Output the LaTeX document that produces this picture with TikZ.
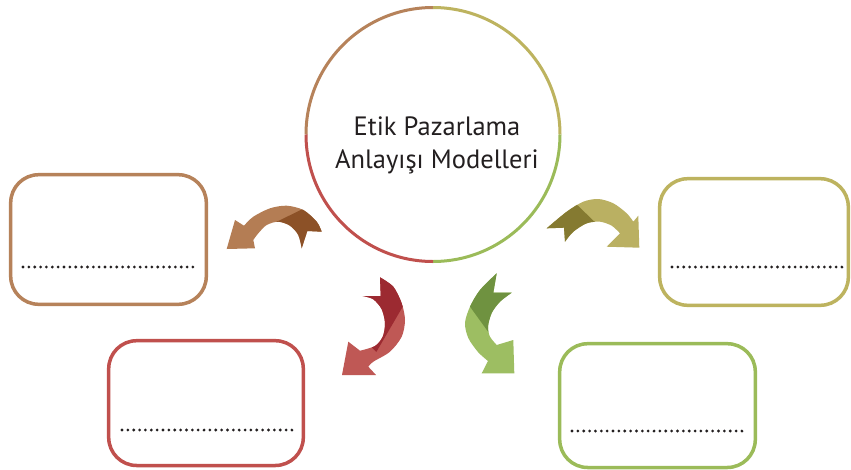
\documentclass[tikz,border=0pt]{standalone}
\usepackage{fontspec}
\setmainfont{PT Sans}
\usetikzlibrary{calc}
\definecolor{brBox}{HTML}{B6825A}
\definecolor{brLight}{HTML}{B47D54}
\definecolor{brDark}{HTML}{8C5127}
\definecolor{rdBox}{HTML}{C0504D}
\definecolor{rdLight}{HTML}{BF5855}
\definecolor{rdDark}{HTML}{9C2A31}
\definecolor{olBox}{HTML}{BDB35F}
\definecolor{olLight}{HTML}{BAB062}
\definecolor{olDark}{HTML}{857A31}
\definecolor{gnBox}{HTML}{9BBB59}
\definecolor{gnLight}{HTML}{9DBE62}
\definecolor{gnDark}{HTML}{6F9240}
\definecolor{txt}{HTML}{231F20}
\begin{document}
\begin{tikzpicture}[x=1pt,y=-1pt,
  box/.style={draw, line width=3.5pt, rounded corners=28pt, inner sep=0pt},
  dotline/.style={line width=3.1pt, line cap=round, dash pattern=on 0pt off 5.86pt, draw=txt},
  ring/.style={line width=3pt},
  title/.style={anchor=base, text=txt, font=\fontsize{26.5}{32}\selectfont, inner sep=0pt}]
\useasboundingbox[fill=white] (0,0) rectangle (851,469);

% hub circle
\node[circle, minimum size=254pt, inner sep=0pt] (hub) at (433,134.5) {};
\draw[ring, brBox] ($(hub.center)+(-127,0)$) arc[start angle=180, end angle=90, radius=127pt];
\draw[ring, olBox] ($(hub.center)+(0,-127)$) arc[start angle=90, end angle=0, radius=127pt];
\draw[ring, gnBox] ($(hub.center)+(127,0)$) arc[start angle=0, end angle=-90, radius=127pt];
\draw[ring, rdBox] ($(hub.center)+(0,127)$) arc[start angle=-90, end angle=-180, radius=127pt];
\node[title] (t1) at (437,135) {Etik Pazarlama};
\node[title] (t2) at (437,168) {Anlayışı Modelleri};

% boxes
\node[box, draw=brBox, minimum width=195.6pt, minimum height=129.6pt] (b1) at (108.5,239.5) {};
\node[box, draw=rdBox, minimum width=194.6pt, minimum height=124.8pt] (b2) at (206,403.1) {};
\node[box, draw=olBox, minimum width=188.6pt, minimum height=126.6pt] (b3) at (754,242) {};
\node[box, draw=gnBox, minimum width=195.6pt, minimum height=123.8pt] (b4) at (657.5,405.6) {};

\draw[dotline] ($(b1.center)+(-85.5,27.5)$) -- ($(b1.center)+(84.5,27.5)$);
\draw[dotline] ($(b2.center)+(-84,26.9)$) -- ($(b2.center)+(86,26.9)$);
\draw[dotline] ($(b3.center)+(-82,25)$) -- ($(b3.center)+(89,25)$);
\draw[dotline] ($(b4.center)+(-85.5,25.4)$) -- ($(b4.center)+(86.5,25.4)$);

% brown arrow
\begin{scope}
\clip (226.7,249) -- (235,220) -- (244,225.7)
  -- plot[smooth] coordinates {(244,225.7) (253.3,216.7) (270,208.3) (286.7,205.7) (303.3,210) (316.7,221.7) (321.7,231.7)}
  -- (307.3,231) -- (301.7,248.3)
  -- plot[smooth] coordinates {(301.7,248.3) (298.3,235) (290,225.7) (278.3,221.7) (266.7,225) (258.3,233.3) (253.3,240)}
  -- (255,248.3) -- cycle;
\fill[brLight] (220,195) rectangle (330,255);
\fill[brDark] (268,226) -- (312,204.5) -- (345,204.5) -- (345,265) -- (268,265) -- cycle;
\end{scope}

% olive arrow
\begin{scope}
\clip (639.3,247.7) -- (638.3,215.7) -- (633.3,221.7)
  -- plot[smooth] coordinates {(633.3,221.7) (626.7,213.3) (613.3,203.3) (598.3,199) (583.3,201.7) (566.7,211.7) (546.7,228.3)}
  -- (564,227.7) -- (565,241.7)
  -- plot[smooth] coordinates {(565,241.7) (573.3,231.7) (586.7,223.3) (600,221.7) (611.7,225.7) (620,233.3)}
  -- (606.7,246.7) -- cycle;
\fill[olLight] (540,190) rectangle (645,255);
\fill[olDark] (570,198) -- (602,229) -- (602,260) -- (530,260) -- (530,198) -- cycle;
\end{scope}

% red arrow
\begin{scope}
\clip plot[smooth] coordinates {(380,277.3) (393.3,286.7) (401.7,303.3) (405,320) (401.7,336.7) (390,351.7) (373.3,361.7) (368.3,366.7)}
  -- (376,375) -- (342,375) -- (348.3,341.7) -- (360,350.7)
  -- plot[smooth] coordinates {(360,350.7) (375,346) (382.7,336.7) (385,323.3) (381.7,309.3) (373.3,299.3) (362.7,296)}
  -- (380.7,296) -- cycle;
\fill[rdLight] (335,270) rectangle (415,380);
\fill[rdDark] (376.3,352) -- (410.1,294) -- (412,265) -- (355,265) -- (355,330) -- cycle;
\end{scope}

% green arrow
\begin{scope}
\clip plot[smooth] coordinates {(496.7,273.3) (480,290) (470,306.7) (465,323) (468.3,338) (478,352) (488,361)}
  -- (481.7,373.3) -- (514.3,373.3) -- (513.3,340) -- (496.7,345)
  -- plot[smooth] coordinates {(496.7,345) (490,336.7) (488,326.7) (491.7,313) (500,301.7) (511.7,292.7)}
  -- (493.3,292.7) -- cycle;
\fill[gnLight] (455,265) rectangle (520,380);
\fill[gnDark] (462,295.6) -- (494,339.9) -- (525,330) -- (525,265) -- (462,265) -- cycle;
\end{scope}
\end{tikzpicture}
\end{document}
